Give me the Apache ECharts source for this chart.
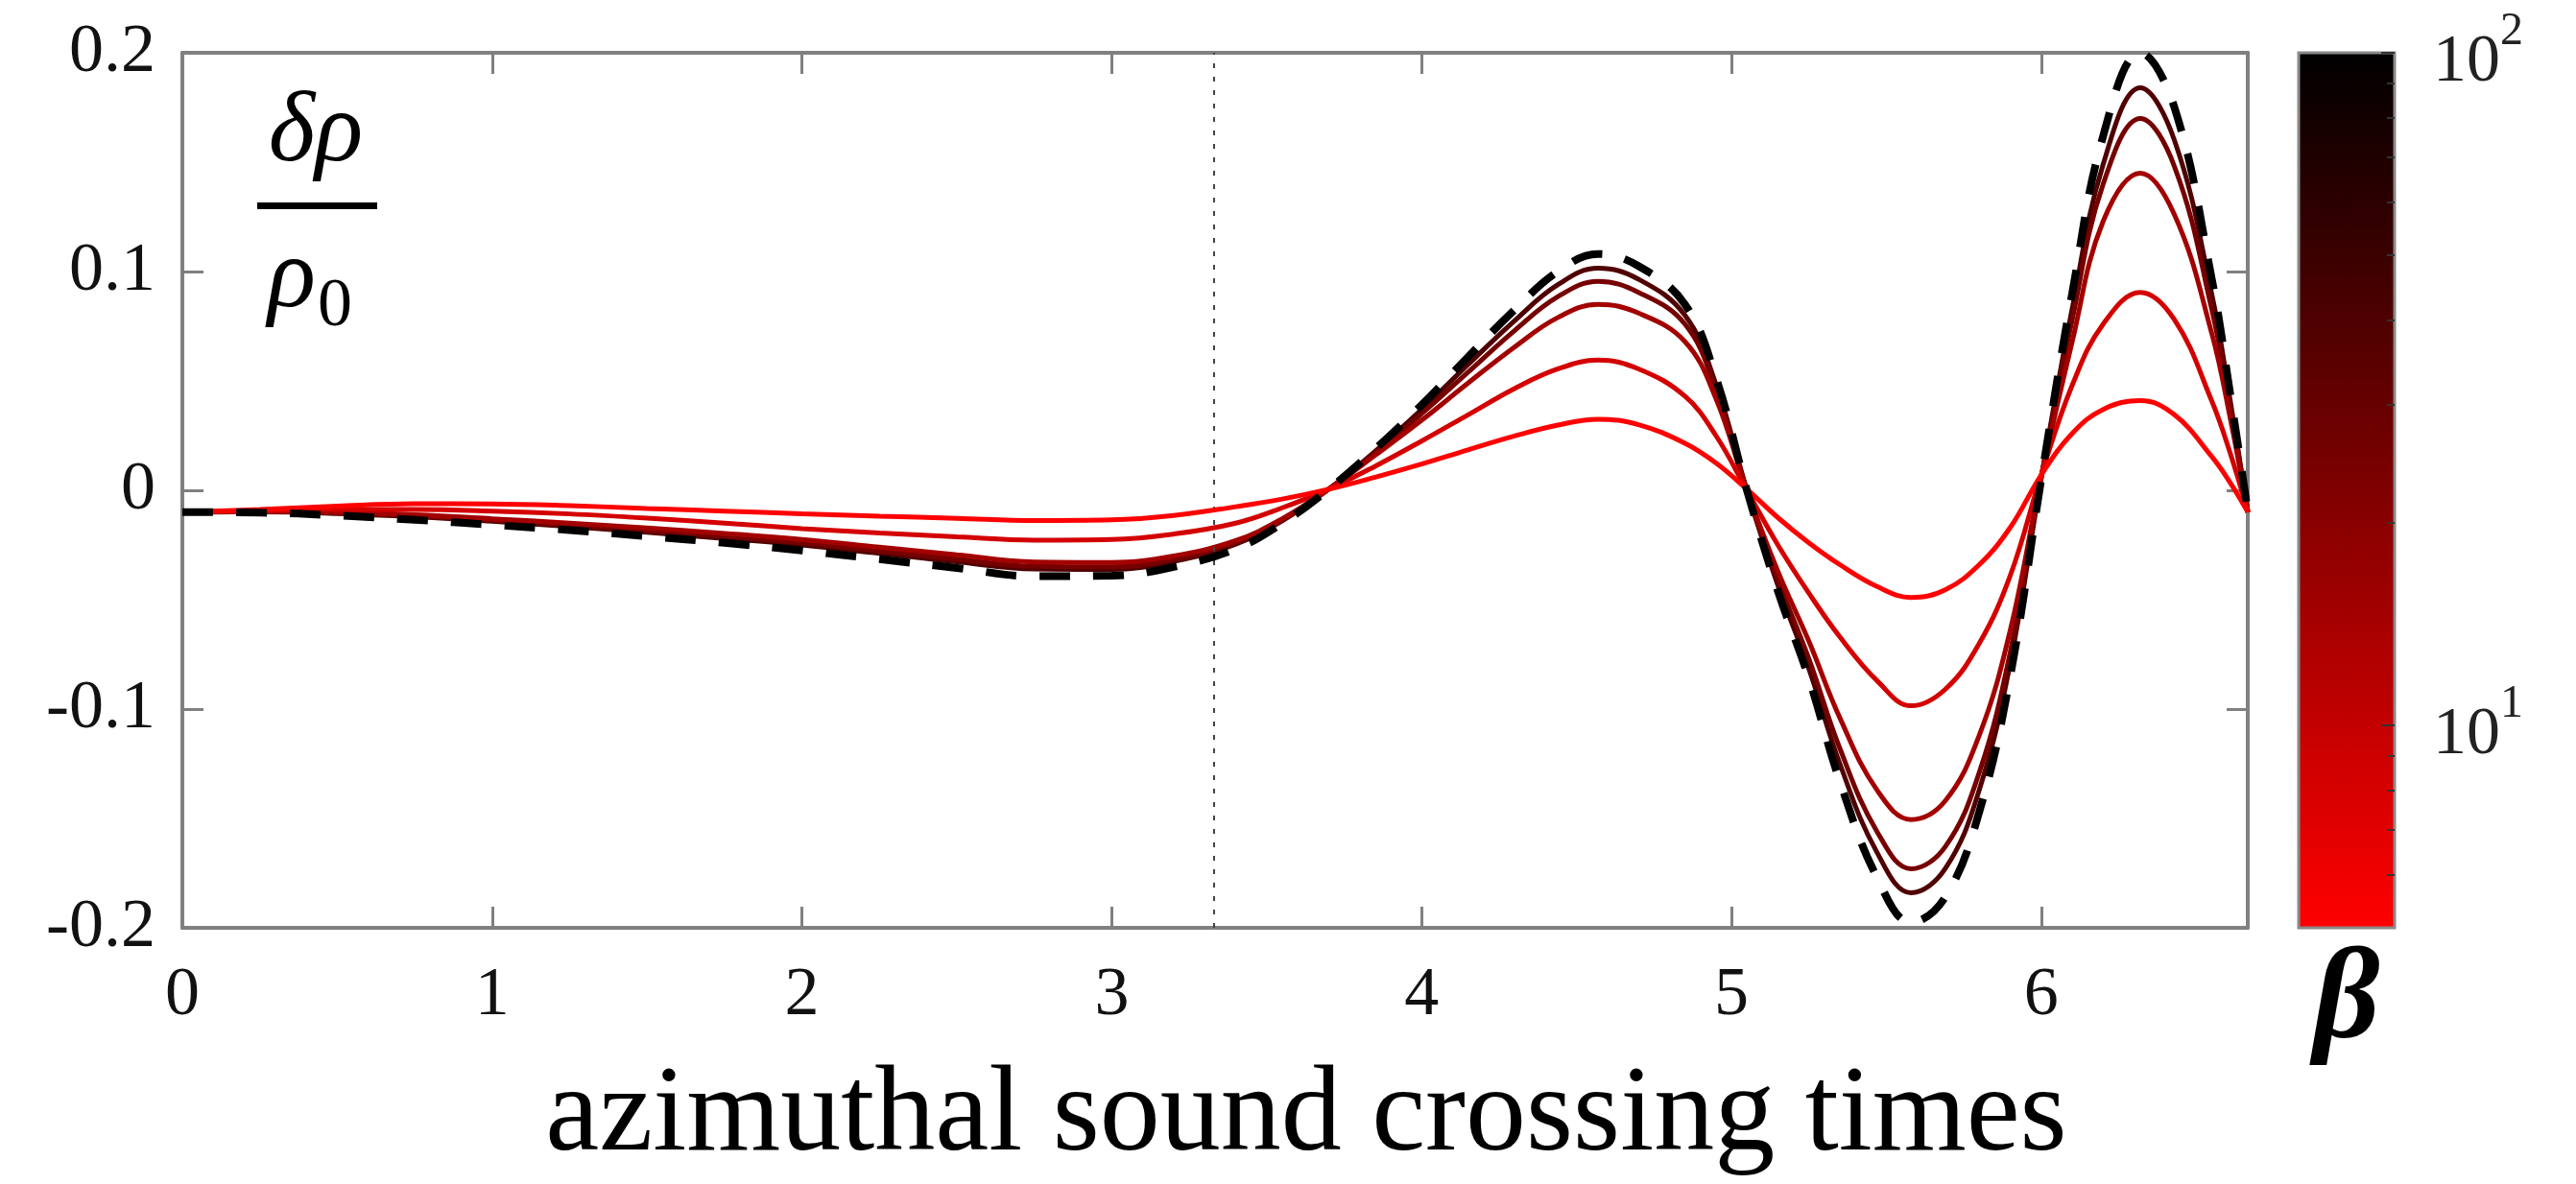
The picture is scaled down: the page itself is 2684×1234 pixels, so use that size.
<!DOCTYPE html>
<html>
<head>
<meta charset="utf-8">
<script src="https://cdn.jsdelivr.net/npm/echarts@6/dist/echarts.min.js"></script>
<style>
  html, body { margin: 0; padding: 0; background: #ffffff; }
  #chart { width: 2684px; height: 1234px; }
</style>
</head>
<body>
<div id="chart"></div>
<script>
// sample positions along the run, in azimuthal sound crossing times
const times = [0, 0.25, 0.5, 0.75, 1.0, 1.25, 1.5, 1.75, 2.0, 2.25, 2.5, 2.75, 3.0, 3.2, 3.4, 3.55,
  3.7, 3.85, 4.0, 4.15, 4.3, 4.44, 4.57, 4.7, 4.85, 4.95, 5.05, 5.15, 5.25, 5.35, 5.47, 5.58,
  5.69, 5.8, 5.9, 6.0, 6.1, 6.2, 6.32, 6.43, 6.55, 6.61, 6.667];

// density perturbation for increasing beta (lowest beta first)
const rhoBeta1 = [-0.0100, -0.0088, -0.0072, -0.0061, -0.0062, -0.0070, -0.0083, -0.0095, -0.0107, -0.0118,
  -0.0128, -0.0138, -0.0135, -0.0115, -0.0075, -0.0040, 0.0005, 0.0060, 0.0120, 0.0185, 0.0248, 0.0298,
  0.0325, 0.0300, 0.0215, 0.0125, 0.0005, -0.0125, -0.0240, -0.0340, -0.0440, -0.0490, -0.0455, -0.0340,
  -0.0170, 0.0070, 0.0260, 0.0370, 0.0410, 0.0345, 0.0155, 0.0035, -0.0100];
const rhoBeta2 = [-0.0100, -0.0093, -0.0088, -0.0088, -0.0095, -0.0108, -0.0127, -0.0150, -0.0175, -0.0195,
  -0.0213, -0.0228, -0.0225, -0.0200, -0.0150, -0.0080, 0.0005, 0.0110, 0.0225, 0.0345, 0.0465, 0.0555,
  0.0595, 0.0555, 0.0430, 0.0250, 0.0000, -0.0250, -0.0470, -0.0670, -0.0870, -0.0985, -0.0910, -0.0700,
  -0.0390, 0.0070, 0.0480, 0.0760, 0.0905, 0.0780, 0.0410, 0.0170, -0.0100];
const rhoBeta3 = [-0.0100, -0.0097, -0.0100, -0.0112, -0.0130, -0.0150, -0.0172, -0.0197, -0.0225, -0.0260,
  -0.0295, -0.0328, -0.0330, -0.0300, -0.0230, -0.0130, 0.0005, 0.0160, 0.0320, 0.0490, 0.0655, 0.0790,
  0.0850, 0.0810, 0.0680, 0.0420, 0.0000, -0.0370, -0.0690, -0.1040, -0.1370, -0.1505, -0.1420, -0.1120,
  -0.0640, 0.0060, 0.0680, 0.1230, 0.1450, 0.1260, 0.0720, 0.0330, -0.0100];
const rhoBeta4 = [-0.0100, -0.0098, -0.0103, -0.0117, -0.0137, -0.0160, -0.0185, -0.0211, -0.0240, -0.0277,
  -0.0315, -0.0348, -0.0350, -0.0316, -0.0240, -0.0137, 0.0005, 0.0170, 0.0350, 0.0540, 0.0730, 0.0885,
  0.0955, 0.0905, 0.0760, 0.0460, 0.0000, -0.0410, -0.0770, -0.1180, -0.1560, -0.1730, -0.1630, -0.1290,
  -0.0740, 0.0060, 0.0780, 0.1400, 0.1700, 0.1480, 0.0830, 0.0380, -0.0100];
const rhoBeta5 = [-0.0100, -0.0099, -0.0106, -0.0121, -0.0142, -0.0166, -0.0192, -0.0220, -0.0250, -0.0288,
  -0.0327, -0.0360, -0.0362, -0.0325, -0.0246, -0.0140, 0.0005, 0.0178, 0.0370, 0.0575, 0.0775, 0.0940,
  0.1015, 0.0965, 0.0800, 0.0485, 0.0000, -0.0435, -0.0815, -0.1250, -0.1655, -0.1840, -0.1730, -0.1370,
  -0.0790, 0.0055, 0.0830, 0.1490, 0.1840, 0.1600, 0.0900, 0.0410, -0.0100];
// limiting (dashed) solution
const rhoLimit = [-0.0100, -0.0102, -0.0115, -0.0135, -0.0158, -0.0182, -0.0210, -0.0240, -0.0275, -0.0315,
  -0.0355, -0.0393, -0.0390, -0.0350, -0.0268, -0.0150, 0.0005, 0.0188, 0.0390, 0.0610, 0.0825, 0.1000,
  0.1080, 0.1025, 0.0850, 0.0515, 0.0000, -0.0460, -0.0860, -0.1330, -0.1770, -0.1975, -0.1860, -0.1470,
  -0.0850, 0.0050, 0.0900, 0.1620, 0.2000, 0.1750, 0.0970, 0.0440, -0.0100];

const curveColors = ['#ff0000', '#d40000', '#a30000', '#760000', '#500000'];
const markerTime = 10 / 3;          // dotted reference time
const timeMax = 20 / 3;
const betaMin = 5, betaMax = 100;
const betaLabelValues = [10, 100];
const betaMinorValues = [6, 7, 8, 9, 20, 30, 40, 50, 60, 70, 80, 90];

const SERIF = 'Liberation Serif';
const FRAME = '#808080';

const chart = echarts.init(document.getElementById('chart'), null, { renderer: 'canvas' });

const toPairs = arr => times.map((t, i) => [t, arr[i]]);
const solidSets = [rhoBeta5, rhoBeta4, rhoBeta3, rhoBeta2, rhoBeta1];
const solidColors = [curveColors[4], curveColors[3], curveColors[2], curveColors[1], curveColors[0]];

const series = solidSets.map((arr, k) => ({
  type: 'line',
  xAxisIndex: 0,
  yAxisIndex: 0,
  data: toPairs(arr),
  showSymbol: false,
  symbol: 'none',
  smooth: 0.4,
  lineStyle: { color: solidColors[k], width: 5 },
  z: 2 + k
}));

series.push({
  type: 'line',
  xAxisIndex: 0,
  yAxisIndex: 0,
  data: toPairs(rhoLimit),
  showSymbol: false,
  symbol: 'none',
  smooth: 0.4,
  lineStyle: { color: '#000000', width: 8, type: [32, 24] },
  z: 10,
  markLine: {
    silent: true,
    symbol: ['none', 'none'],
    label: { show: false },
    lineStyle: { color: '#444444', width: 2, type: [5, 9] },
    data: [{ xAxis: markerTime }]
  }
});

const frameAxis = () => ({
  axisLine: { show: true, onZero: false, lineStyle: { color: FRAME, width: 4 } },
  axisTick: { show: true, inside: true, length: 22, lineStyle: { color: FRAME, width: 3 } },
  splitLine: { show: false }
});

const log10 = Math.log10;

const option = {
  animation: false,
  backgroundColor: '#ffffff',
  grid: [
    { left: 190, top: 55, width: 2152, height: 912, show: false },
    {
      left: 2395, top: 55, width: 100, height: 912, show: true,
      borderColor: '#8a8a8a', borderWidth: 3,
      backgroundColor: {
        type: 'linear', x: 0, y: 0, x2: 0, y2: 1,
        colorStops: [{ offset: 0, color: '#000000' }, { offset: 1, color: '#ff0000' }]
      }
    }
  ],
  xAxis: [
    Object.assign(frameAxis(), {
      gridIndex: 0, type: 'value', position: 'bottom', min: 0, max: timeMax, interval: 1,
      axisLabel: {
        margin: 35, fontSize: 72, fontFamily: SERIF, color: '#111111', showMaxLabel: false,
        formatter: v => (Math.abs(v - Math.round(v)) < 1e-6 ? String(Math.round(v)) : '')
      },
      name: 'azimuthal sound crossing times',
      nameLocation: 'middle',
      nameGap: 135,
      nameTextStyle: { fontSize: 126, fontFamily: SERIF, color: '#000000', padding: [0, 0, 0, 190] }
    }),
    Object.assign(frameAxis(), {
      gridIndex: 0, type: 'value', position: 'top', min: 0, max: timeMax, interval: 1,
      axisLabel: { show: false }
    }),
    {
      gridIndex: 1, type: 'value', min: 0, max: 1,
      axisLine: { show: false }, axisTick: { show: false }, axisLabel: { show: false },
      splitLine: { show: false },
      name: '\u03b2', nameLocation: 'middle', nameGap: 12,
      nameTextStyle: { fontSize: 135, fontStyle: 'italic', fontWeight: 'bold', fontFamily: SERIF, color: '#000000' }
    }
  ],
  yAxis: [
    Object.assign(frameAxis(), {
      gridIndex: 0, type: 'value', position: 'left', min: -0.2, max: 0.2, interval: 0.1,
      axisLabel: {
        margin: 28, fontSize: 72, fontFamily: SERIF, color: '#111111',
        formatter: v => (Math.abs(v) < 1e-9 ? '0' : v.toFixed(1))
      }
    }),
    Object.assign(frameAxis(), {
      gridIndex: 0, type: 'value', position: 'right', min: -0.2, max: 0.2, interval: 0.1,
      axisLabel: { show: false }
    }),
    {
      gridIndex: 1, type: 'value', position: 'right', min: log10(betaMin), max: log10(betaMax),
      axisLine: { show: false, onZero: false },
      splitLine: { show: false },
      axisTick: {
        show: true, inside: true, length: 14,
        customValues: betaLabelValues.map(log10),
        lineStyle: { color: '#333333', width: 2 }
      },
      axisLabel: {
        show: true, margin: 40,
        customValues: betaLabelValues.map(log10),
        formatter: v => '{b|10}{s|' + Math.round(v) + '}',
        rich: {
          b: { fontSize: 70, fontFamily: SERIF, color: '#222222', lineHeight: 92, verticalAlign: 'bottom' },
          s: { fontSize: 48, fontFamily: SERIF, color: '#222222', lineHeight: 92, verticalAlign: 'top' }
        }
      }
    },
    {
      gridIndex: 1, type: 'value', position: 'right', min: log10(betaMin), max: log10(betaMax),
      axisLine: { show: false, onZero: false },
      splitLine: { show: false },
      axisLabel: { show: false },
      axisTick: {
        show: true, inside: true, length: 8,
        customValues: betaMinorValues.map(log10),
        lineStyle: { color: '#333333', width: 2 }
      }
    }
  ],
  series: series,
  graphic: [
    {
      type: 'text', x: 329, y: 140, z: 20,
      style: { text: '\u03b4\u03c1', fontFamily: SERIF, fontStyle: 'italic', fontSize: 104, fill: '#000000', align: 'center', verticalAlign: 'middle' }
    },
    {
      type: 'rect', z: 20,
      shape: { x: 268, y: 211, width: 125, height: 7 },
      style: { fill: '#000000' }
    },
    {
      type: 'text', x: 279, y: 292, z: 20,
      style: { text: '\u03c1', fontFamily: SERIF, fontStyle: 'italic', fontSize: 104, fill: '#000000', align: 'left', verticalAlign: 'middle' }
    },
    {
      type: 'text', x: 331, y: 320, z: 20,
      style: { text: '0', fontFamily: SERIF, fontSize: 72, fill: '#000000', align: 'left', verticalAlign: 'middle' }
    }
  ]
};

chart.setOption(option);
</script>
</body>
</html>
